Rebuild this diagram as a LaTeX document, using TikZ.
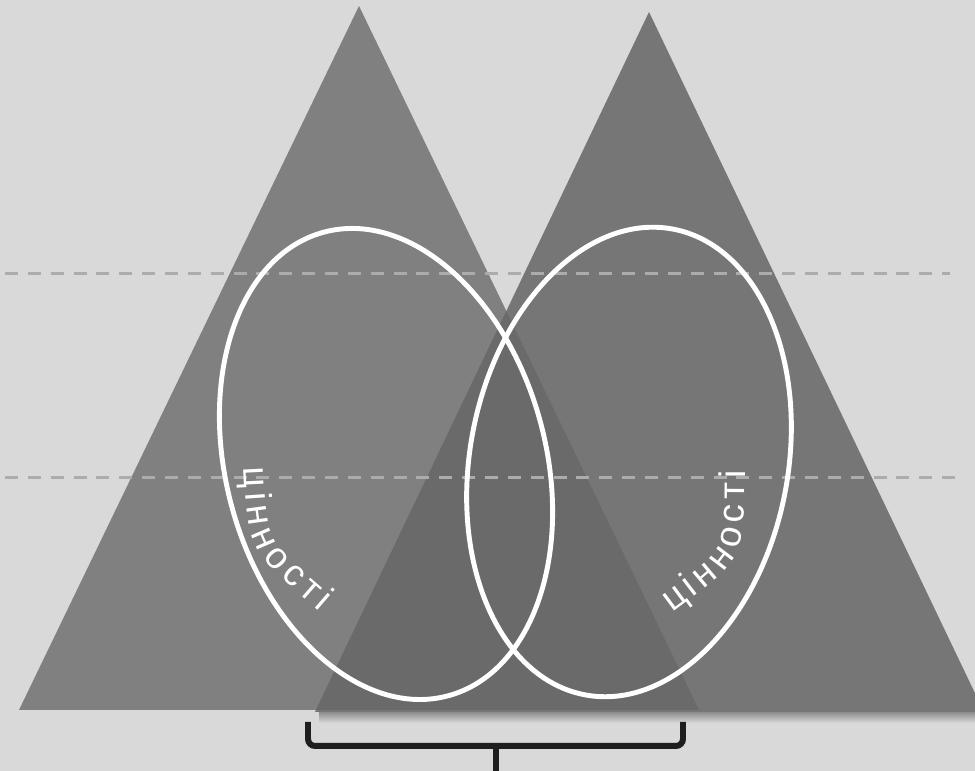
\documentclass[tikz,border=0pt]{standalone}
\usepackage{fontspec}
\newfontfamily\valuefont{Liberation Sans}
\usetikzlibrary{calc,decorations.text}
\definecolor{bg}{RGB}{217,217,217}
\definecolor{lefttri}{RGB}{128,128,128}
\definecolor{righttri}{RGB}{118,118,118}
\definecolor{overlap}{RGB}{106,106,106}
\definecolor{dashgray}{RGB}{172,172,172}
\definecolor{bracecol}{RGB}{30,30,30}
\tikzset{
  level/.style = {draw, dashgray, line width = 0.85pt, dash pattern = on 3.7pt off 2.8pt},
  rim/.style = {draw, white, line width = 1.4pt},
  value/.style = {decorate, decoration = {text effects along path, text = {цінності},
      text effects/.cd, text along path, fit text to path,
      characters = {text = white, font = \valuefont\fontsize{10.5}{12}\selectfont}}}
}

\begin{document}
\begin{tikzpicture}[x = 0.01cm, y = 0.01cm]
% frame
\path[fill = bg](0,0)rectangle(975,771);
\useasboundingbox(0,0)rectangle(975,771);
\clip(0,0)rectangle(975,771);
% left triangle
\coordinate(L1)at(19,61);
\coordinate(L2)at(699,61);
\coordinate(L3)at(359,765);
\path[fill = lefttri](L1)to(L2)to(L3)to cycle;
% right triangle
\coordinate(R1)at(315,59);
\coordinate(R2)at(984,59);
\coordinate(R3)at(649,759);
\shade[top color = black!45, bottom color = bg]($(R1)+(4,0)$)rectangle($(R2|-R1)+(0,-11)$);
\path[fill = righttri](R1)to(R2)to(R3)to cycle;
% overlap
\begin{scope}
\clip(L1)to(L2)to(L3)to cycle;
\path[fill = overlap](R1)to(R2)to(R3)to cycle;
\end{scope}
% dashed levels
\path[level](5,497)to(950,497);
\path[level](5,293)to(960,293);
% ellipses
\coordinate(c1)at(386,307);
\coordinate(c2)at(629,309);
\path[rim, rotate around = {15:(c1)}](c1)ellipse[x radius = 160, y radius = 240];
\path[rim, rotate around = {-10.7:(c2)}](c2)ellipse[x radius = 159, y radius = 237];
% values along the rims
\path[value](244,303) .. controls (248,221) .. (320,159);
\path[value](672,158) .. controls (745,212) .. (745,301);
% brace
\coordinate(b1)at(308,49);
\coordinate(b2)at(683,49);
\coordinate(bm)at(496,25);
\path[draw, bracecol, line width = 1.7pt, rounded corners = 2pt](b1) -- (b1|-bm) -- (b2|-bm) -- (b2);
\path[draw, bracecol, line width = 1.7pt](bm)to(496,0);
\end{tikzpicture}
\end{document}
